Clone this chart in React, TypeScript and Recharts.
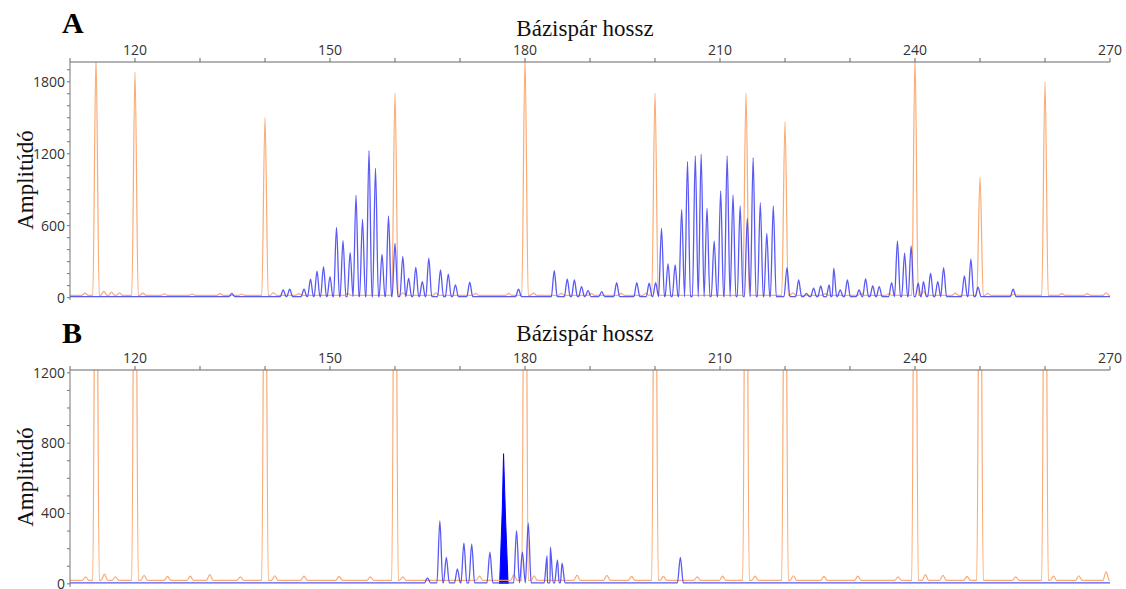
import { ComposedChart, Line, Area, XAxis, YAxis } from 'recharts';

// size standard (orange) peak positions, bp
const ladderBp = [114, 120, 140, 160, 180, 200, 214, 220, 240, 250, 260];
const ladderHeightA = [2000, 1880, 1500, 1705, 2000, 1705, 1705, 1464, 2000, 1006, 1797];
const ladderHeightB = [2900, 3100, 2800, 3000, 3200, 2900, 3000, 2800, 3100, 2700, 3000];

// small orange bumps along the baseline
const ladderNoiseBpA = [112.3, 115.2, 116.4, 117.6, 121.2, 124.5, 128.8, 133.1, 136.4, 141.3, 145.2, 152.7, 161.2, 166.3,
  172.4, 177.5, 181.3, 185.6, 190.2, 194.8, 198.6, 221.2, 226.2, 231.7, 236.0, 241.3, 246.2, 251.2, 255.3, 262.6, 266.5, 269.4];
const ladderNoiseA = [38, 52, 45, 40, 38, 32, 30, 34, 30, 42, 34, 36, 40, 38,
  36, 36, 38, 35, 34, 36, 35, 40, 34, 36, 32, 55, 38, 35, 30, 34, 34, 40];
const ladderNoiseBpB = [112.4, 115.3, 117.0, 121.4, 125.0, 128.5, 131.5, 136.2, 141.5, 146.0, 151.4, 156.2, 161.2, 173.0,
  178.3, 181.4, 188.0, 192.6, 196.4, 201.3, 206.5, 210.4, 215.4, 221.3, 226.0, 231.2, 237.4, 241.6, 244.3, 248.0, 255.5, 261.3, 265.2, 269.4];
const ladderNoiseB = [40, 55, 40, 48, 42, 44, 52, 40, 46, 44, 42, 40, 40, 44,
  52, 45, 50, 48, 42, 42, 40, 44, 44, 46, 42, 44, 40, 52, 48, 42, 40, 44, 46, 68];

// sample (blue) peaks, panel A
const sampleBpA = [134.9, 142.8, 143.8, 146, 147, 148, 149, 150, 151, 152, 153.1, 154, 155, 156, 157, 158, 159, 160,
  161.2, 162.1, 163.2, 164.2, 165.2, 167, 168.2, 169.3, 171.5, 179, 184.5, 186.5, 187.6, 188.7, 189.7, 191.8,
  194.1, 197.2, 199.1, 200.1, 201, 202, 203.1, 204.1, 205, 206.2, 207.1, 208, 209.1, 210.1, 211.1, 212, 213.1,
  214.2, 215.1, 216.2, 217.2, 218.2, 220.3, 222.1, 223.3, 224.4, 225.5, 226.8, 227.5, 228.5, 229.6, 231.4, 232.4,
  233.5, 234.5, 236.4, 237.3, 238.4, 239.4, 240.5, 241.3, 242.4, 243.5, 244.4, 247.6, 248.6, 249.7, 255.1];
const sampleHeightA = [36, 64, 70, 70, 153, 220, 258, 175, 586, 475, 375, 853, 653, 1225, 1078, 361, 681, 453,
  342, 161, 253, 133, 330, 231, 195, 106, 128, 70, 225, 153, 147, 92, 60, 50,
  125, 125, 120, 125, 578, 281, 272, 736, 1133, 1181, 1195, 745, 472, 889, 1181, 856, 764,
  661, 1167, 792, 536, 764, 250, 147, 36, 78, 97, 106, 245, 64, 147, 64, 156,
  97, 92, 125, 472, 370, 431, 120, 133, 203, 133, 250, 181, 320, 87, 70];

// sample (blue) peaks, panel B
const sampleBpB = [165.0, 166.9, 167.9, 169.6, 170.6, 171.8, 174.6, 178.7, 179.6, 180.5, 183.4, 183.9, 185.0, 185.7, 203.9];
const sampleHeightB = [34, 358, 151, 85, 231, 225, 180, 303, 180, 345, 160, 208, 136, 118, 151];

// the filled (highlighted) peak in B
const filledBp = [176.1, 176.5, 176.7, 177.0, 177.4];
const filledHeight = [0, 420, 740, 380, 0];

const xTicks = [110, 120, 130, 140, 150, 160, 170, 180, 190, 200, 210, 220, 230, 240, 250, 260, 270];
const yTicksA = [0, 100, 200, 300, 400, 500, 600, 700, 800, 900, 1000, 1100, 1200, 1300, 1400, 1500, 1600, 1700, 1800, 1900];
const yTicksB = [0, 100, 200, 300, 400, 500, 600, 700, 800, 900, 1000, 1100, 1200];

const ORANGE = '#F9A163';
const BLUE = '#3C3CF2';
const tickFont = { fontFamily: 'Open Sans', fontSize: 14, fill: '#333' };

function trace(bps: number[], hs: number[], half: number, base: number) {
  const pts: { x: number; y: number }[] = [];
  bps.forEach((c, i) => {
    pts.push({ x: c - half, y: base });
    pts.push({ x: c, y: hs[i] });
    pts.push({ x: c + half, y: base });
  });
  pts.sort((a, b) => a.x - b.x);
  return [{ x: 110, y: base }, ...pts, { x: 270, y: base }];
}

const orangeA = trace([...ladderBp, ...ladderNoiseBpA], [...ladderHeightA, ...ladderNoiseA], 0.5, 18);
const blueA = trace(sampleBpA, sampleHeightA, 0.45, 8);
const orangeB = trace([...ladderBp, ...ladderNoiseBpB], [...ladderHeightB, ...ladderNoiseB], 0.5, 20);
const blueB = trace(sampleBpB, sampleHeightB, 0.45, 6);
const filledB = filledBp.map((x, i) => ({ x, y: filledHeight[i] }));

function Panel({ yDomain, yTicks, labelEvery, height, bottom, orange, blue, filled }: any) {
  return (
    <ComposedChart width={1126} height={height} margin={{ top: 30, right: 16, bottom, left: 8 }}>
      <XAxis
        xAxisId="top"
        orientation="top"
        type="number"
        dataKey="x"
        domain={[110, 270]}
        allowDataOverflow
        ticks={xTicks}
        interval={0}
        tickFormatter={(v: number) => (v % 30 === 0 && v > 110 ? String(v) : '')}
        height={32}
        tickSize={4}
        tickMargin={3}
        tick={tickFont}
        stroke="#666"
      />
      <XAxis xAxisId="bottom" orientation="bottom" type="number" dataKey="x" domain={[110, 270]}
        allowDataOverflow height={0} tick={false} tickLine={false} stroke="#999" strokeWidth={2} />
      <YAxis
        yAxisId="left"
        type="number"
        domain={yDomain}
        allowDataOverflow
        ticks={yTicks}
        interval={0}
        tickFormatter={(v: number) => (v % labelEvery === 0 ? String(v) : '')}
        width={62}
        tickSize={3}
        tickMargin={2}
        tick={tickFont}
        stroke="#777"
      />
      <YAxis yAxisId="right" orientation="right" type="number" domain={yDomain} allowDataOverflow
        width={0} tick={false} tickLine={false} stroke="#999" strokeWidth={2} />
      <Line xAxisId="top" yAxisId="left" data={orange} dataKey="y" type="monotoneX" stroke={ORANGE}
        strokeOpacity={0.9} strokeWidth={1.2} dot={false} isAnimationActive={false} />
      <Line xAxisId="top" yAxisId="left" data={blue} dataKey="y" type="monotoneX" stroke={BLUE}
        strokeOpacity={0.85} strokeWidth={1.3} dot={false} isAnimationActive={false} />
      {filled && (
        <Area xAxisId="top" yAxisId="left" data={filled} dataKey="y" type="linear" stroke="#0000FF"
          fill="#0000FF" fillOpacity={1} baseValue={0} isAnimationActive={false} />
      )}
    </ComposedChart>
  );
}

export default function App() {
  const serif = 'Liberation Serif, Times New Roman, serif';
  return (
    <div style={{ position: 'relative', width: 1126, height: 589, background: '#fff', overflow: 'hidden' }}>
      <style>{'body{margin:0}'}</style>
      <div style={{ position: 'absolute', left: 0, top: 0 }}>
        <Panel yDomain={[-20, 1965]} yTicks={yTicksA} labelEvery={600} height={312} bottom={12}
          orange={orangeA} blue={blueA} />
      </div>
      <div style={{ position: 'absolute', left: 0, top: 308 }}>
        <Panel yDomain={[-18, 1216]} yTicks={yTicksB} labelEvery={400} height={291} bottom={12}
          orange={orangeB} blue={blueB} filled={filledB} />
      </div>
      <svg width={1126} height={589} style={{ position: 'absolute', left: 0, top: 0, pointerEvents: 'none' }}>
        <text x={62} y={33} fontFamily={serif} fontWeight="bold" fontSize={30} fill="#000">A</text>
        <text x={62} y={343} fontFamily={serif} fontWeight="bold" fontSize={30} fill="#000">B</text>
        <text x={585} y={36} textAnchor="middle" fontFamily={serif} fontSize={23} fill="#111">Bázispár hossz</text>
        <text x={585} y={341} textAnchor="middle" fontFamily={serif} fontSize={23} fill="#111">Bázispár hossz</text>
        <text transform="translate(33,180) rotate(-90)" textAnchor="middle" fontFamily={serif} fontSize={23} fill="#111">Amplitúdó</text>
        <text transform="translate(33,477) rotate(-90)" textAnchor="middle" fontFamily={serif} fontSize={23} fill="#111">Amplitúdó</text>
      </svg>
    </div>
  );
}
